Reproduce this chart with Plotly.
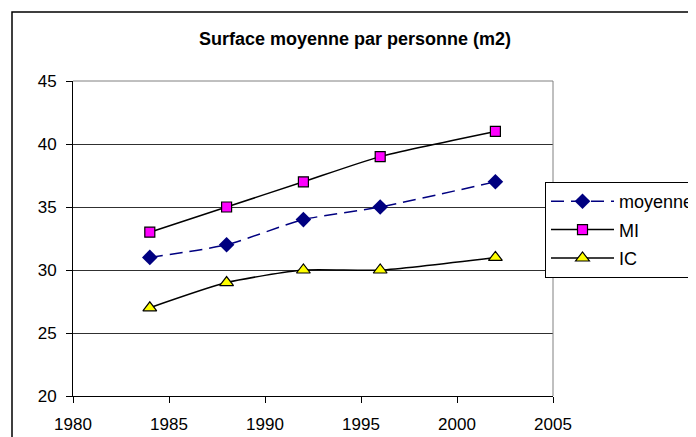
import plotly.graph_objects as go

years = [1984, 1988, 1992, 1996, 2002]
moyenne = [31, 32, 34, 35, 37]
mi = [33, 35, 37, 39, 41]
ic = [27, 29, 30, 30, 31]

fig = go.Figure()

fig.add_trace(go.Scatter(
    x=years, y=moyenne, name="moyenne", mode="lines+markers", legendgroup="a",
    line={"color": "#000080", "width": 1.5, "dash": "13px,7px", "shape": "spline", "smoothing": 0.6},
    marker={"symbol": "diamond", "size": 12, "color": "#000080"},
))
fig.add_trace(go.Scatter(
    x=years, y=mi, name="MI", mode="lines+markers", legendgroup="b",
    line={"color": "black", "width": 1.5, "shape": "spline", "smoothing": 0.6},
    marker={"symbol": "square", "size": 10, "color": "#FF00FF", "line": {"color": "black", "width": 1.2}},
))
fig.add_trace(go.Scatter(
    x=years, y=ic, name="IC", mode="lines+markers", legendgroup="c",
    line={"color": "black", "width": 1.5, "shape": "spline", "smoothing": 0.6},
    marker={"symbol": "triangle-up", "size": 12, "color": "#FFFF00", "line": {"color": "black", "width": 1.2}},
))

# the page body has an 8px margin, so the figure is 8px smaller and shifted
W, H = 688, 429
L, R, T, B = 65, 545, 73, 388
pw, ph = R - L, B - T

# outer chart frame (runs past the right and bottom edge like the original)
fig.add_shape(type="rect", xref="paper", yref="paper",
              x0=(4 - L) / pw, x1=(W + 20 - L) / pw, y0=(B - H - 20) / ph, y1=(B - 4) / ph,
              line={"color": "black", "width": 1.5}, layer="below")
# grey plot-area border on top and right
fig.add_shape(type="line", xref="paper", yref="paper", x0=0, x1=1, y0=1, y1=1,
              line={"color": "#808080", "width": 1})
fig.add_shape(type="line", xref="paper", yref="paper", x0=1, x1=1, y0=0, y1=1,
              line={"color": "#808080", "width": 1})

fig.update_layout(
    width=W, height=H,
    margin={"l": L, "r": W - R, "t": T, "b": H - B, "autoexpand": False},
    paper_bgcolor="white", plot_bgcolor="white",
    font={"family": "Liberation Sans, Arial", "size": 17, "color": "black"},
    title={"text": "<b>Surface moyenne par personne (m2)</b>", "x": 347 / W, "xanchor": "center",
           "y": 1 - 31 / H, "yanchor": "middle", "font": {"size": 18}},
    showlegend=True,
    legend={"x": (537 - L) / pw, "xanchor": "left", "y": (B - 174) / ph, "yanchor": "top",
            "bgcolor": "white", "bordercolor": "black", "borderwidth": 1,
            "font": {"size": 18}, "tracegroupgap": 2, "itemwidth": 63},
)
fig.update_xaxes(range=[1980, 2005], dtick=5, tick0=1980, showgrid=False, zeroline=False,
                 showline=True, linecolor="black", linewidth=1, ticks="outside", ticklen=6,
                 tickcolor="black", ticklabelstandoff=7, automargin=False)
fig.update_yaxes(range=[20, 45], dtick=5, showgrid=True, gridcolor="#303030", gridwidth=1,
                 zeroline=False, showline=True, linecolor="black", linewidth=1,
                 ticks="outside", ticklen=6, tickcolor="black", ticklabelstandoff=6,
                 automargin=False)

fig.write_html("out.html")
